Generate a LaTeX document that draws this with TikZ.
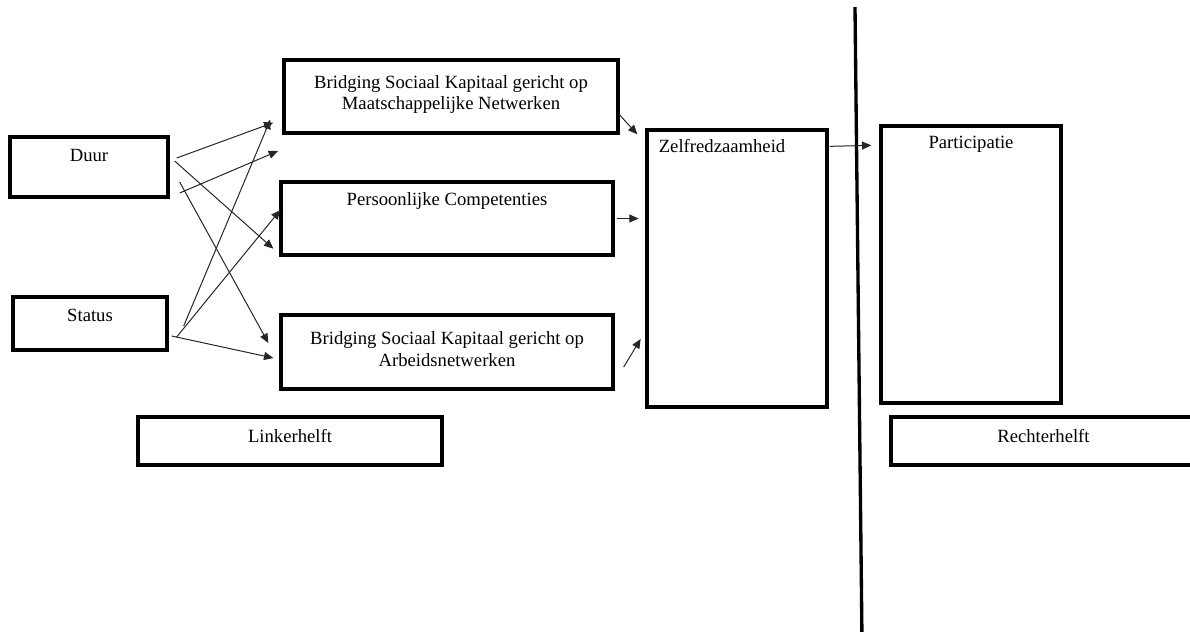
\documentclass[tikz,border=0pt]{standalone}
\usepackage{fontspec}
\setmainfont{Liberation Serif}
\usetikzlibrary{calc,arrows.meta}

\tikzset{every picture/.style={line width=0.75pt}}
\tikzset{
  blok/.style={draw, line width=2.5pt, inner sep=0pt, font=\fontsize{14}{16}\selectfont, align=center},
  tekst/.style={font=\fontsize{14}{16}\selectfont, inner sep=0pt},
  pijl/.style={draw=black!85, line width=0.75pt, -{Triangle[length=7pt,width=6pt]}},
}

\begin{document}
\begin{tikzpicture}[x=0.75pt,y=0.75pt,yscale=-1,xscale=1]
\useasboundingbox (0,0) rectangle (1190,632);

% linkerhelft
\node[blok, minimum width=118.5pt, minimum height=45pt] (duur) at (89,167) {};
\node[blok, minimum width=115.5pt, minimum height=39.75pt] (status) at (90,323.5) {};
\node[blok, minimum width=250.5pt, minimum height=54.75pt, text depth=6pt] (maatsch) at (451,96.5) {Bridging Sociaal Kapitaal gericht op\\Maatschappelijke Netwerken};
\node[blok, minimum width=249pt, minimum height=54.75pt] (pers) at (447,218.5) {};
\node[blok, minimum width=249pt, minimum height=55.5pt, text depth=4.5pt] (arbeid) at (447,352) {Bridging Sociaal Kapitaal gericht op\\Arbeidsnetwerken};
\node[blok, minimum width=135pt, minimum height=207.75pt] (zelf) at (737,268.5) {};
\node[blok, minimum width=228pt, minimum height=36pt, text depth=7pt] (linker) at (290,441) {Linkerhelft};

\node[tekst] (duurtxt) at ($(duur.north)+(0,20)$) {Duur};
\node[tekst] (statustxt) at ($(status.north)+(0,20)$) {Status};
\node[tekst] (perstxt) at ($(pers.north)+(0,21)$) {Persoonlijke Competenties};
\node[tekst, anchor=west] (zelftxt) at ($(zelf.north west)+(13,18)$) {Zelfredzaamheid};

% rechterhelft
\node[blok, minimum width=135pt, minimum height=207.75pt] (part) at (971,264.5) {};
\node[tekst] (parttxt) at ($(part.north)+(0,20)$) {Participatie};
\node[blok, minimum width=228.75pt, minimum height=36pt, text depth=7pt] (rechter) at (1043.5,441) {Rechterhelft};

% scheidingslijn
\coordinate (lijnboven) at (855,7);
\coordinate (lijnonder) at (862,640);
\draw[line width=2.5pt] (lijnboven) -- (lijnonder);

% pijlen
\coordinate (vrij) at (278,151);
\draw[pijl] ($(duur.east)+(7,-9)$) -- ($(maatsch.south west)+(-9,-12)$);
\draw[pijl] ($(duur.east)+(10,26)$) -- (vrij);
\draw[pijl] ($(duur.east)+(5,-6)$) -- ($(pers.south west)+(-6,-8)$);
\draw[pijl] ($(duur.east)+(10,15)$) -- ($(arbeid.west)+(-11,-9)$);
\draw[pijl] ($(status.east)+(15,2.5)$) -- ($(maatsch.south west)+(-12,-15)$);
\draw[pijl] ($(status.east)+(8,13.5)$) -- ($(pers.west)+(1,-8.5)$);
\draw[pijl] ($(status.east)+(3,12.5)$) -- ($(arbeid.west)+(-6,6)$);

\draw[pijl] ($(maatsch.east)+(0,18.5)$) -- ($(zelf.north west)+(-8,6)$);
\draw[pijl] ($(pers.east)+(2,0)$) -- ($(pers.east)+(24,0)$);
\draw[pijl] ($(arbeid.east)+(9,15)$) -- ($(arbeid.east)+(26,-13)$);
\draw[pijl] ($(zelf.north east)+(1,18)$) -- ($(part.north west)+(-8,21)$);

\end{tikzpicture}
\end{document}
